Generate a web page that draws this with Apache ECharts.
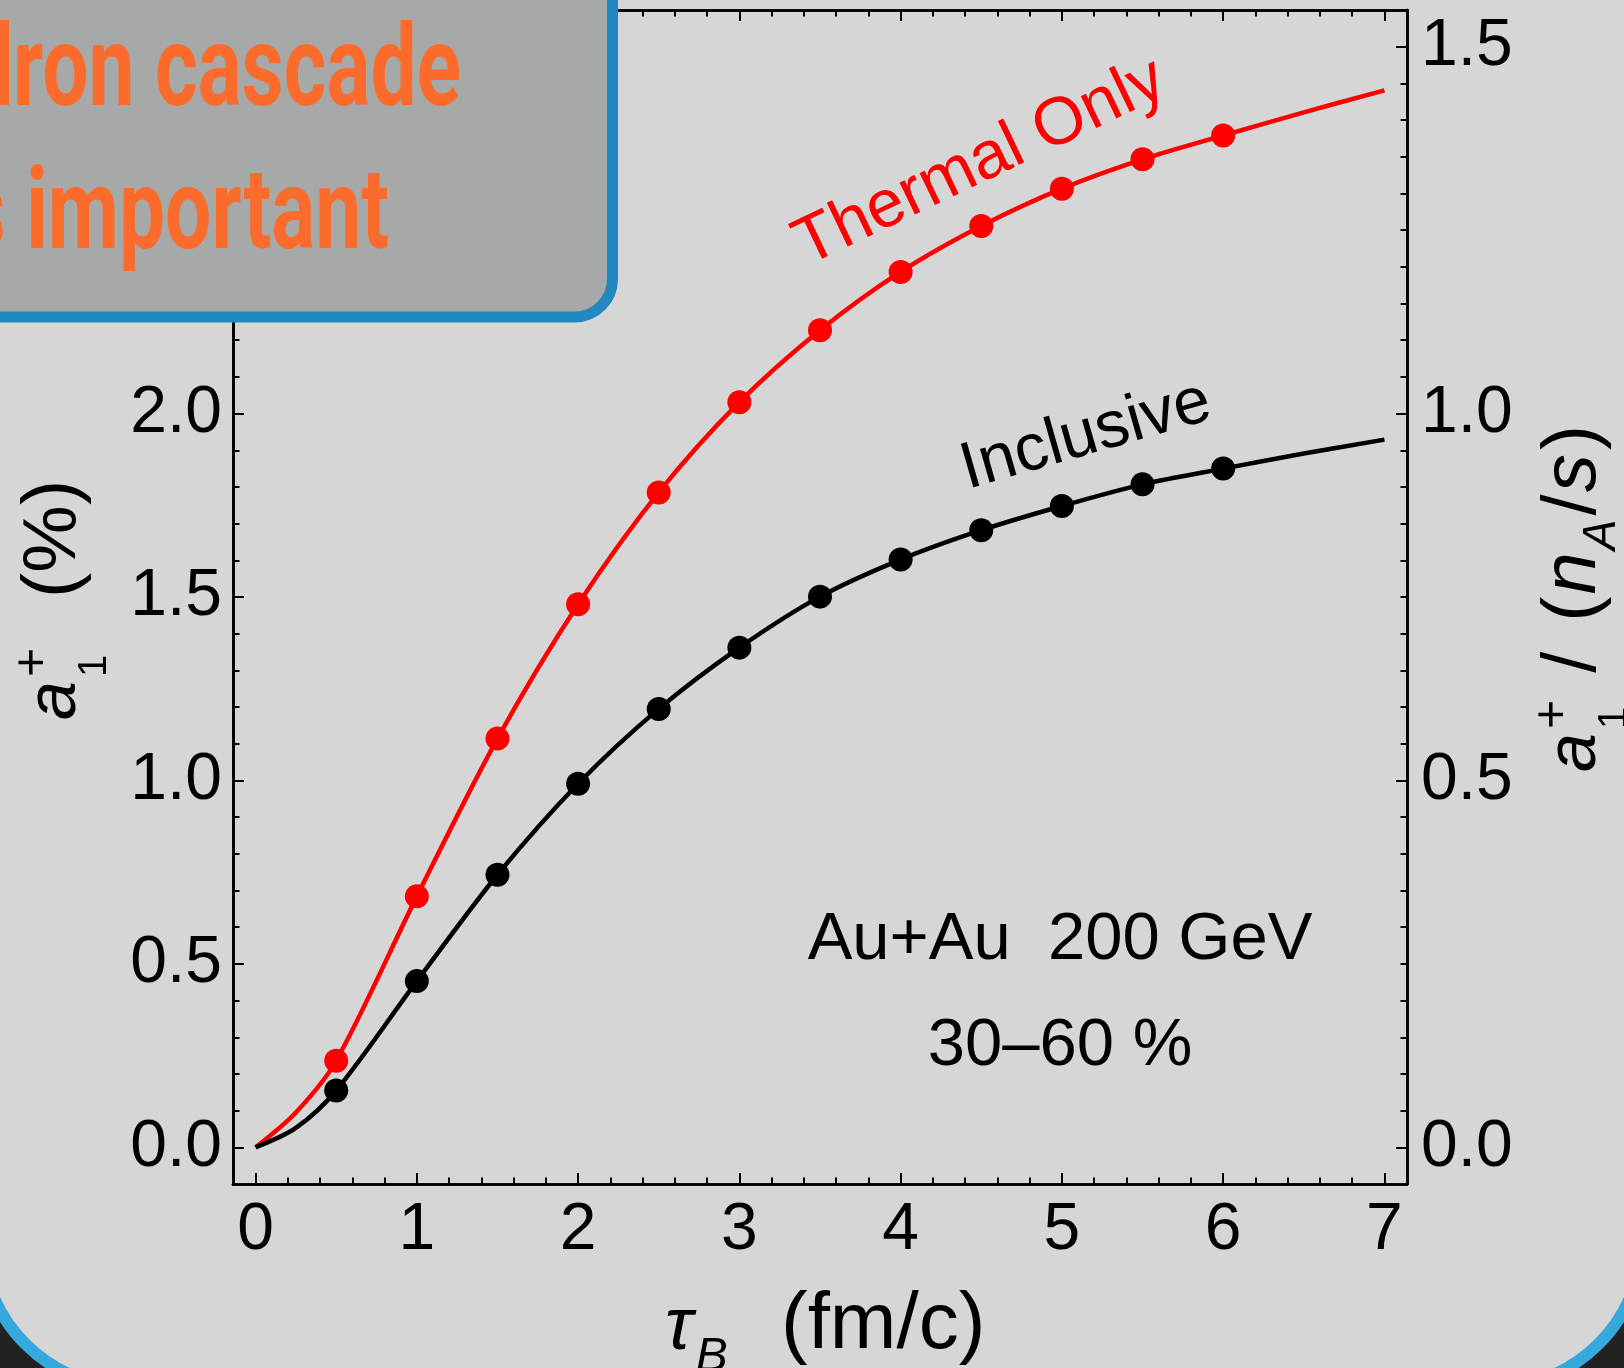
<!DOCTYPE html>
<html><head><meta charset="utf-8">
<script src="https://cdn.jsdelivr.net/npm/echarts@6/dist/echarts.min.js"></script>
<style>html,body{margin:0;padding:0;background:#222;}#c{width:1624px;height:1368px;}</style>
</head><body><div id="c"></div>
<script>
// ---- data ----
const tauPoints       = [0.5, 1, 1.5, 2, 2.5, 3, 3.5, 4, 4.5, 5, 5.5, 6];
const thermalPoints   = [0.236, 0.684, 1.114, 1.480, 1.785, 2.031, 2.227, 2.386, 2.511, 2.613, 2.693, 2.758];
const inclusivePoints = [0.155, 0.453, 0.743, 0.991, 1.195, 1.362, 1.501, 1.602, 1.682, 1.748, 1.807, 1.850];
// extra samples of the fitted curves (before first / after last marker)
const curveTauStart       = [0, 0.25];
const thermalCurveStart   = [0, 0.095];
const inclusiveCurveStart = [0, 0.053];
const curveTauEnd         = [6.5, 7];
const thermalCurveEnd     = [2.821, 2.881];
const inclusiveCurveEnd   = [1.891, 1.929];
// tick labels
const xTicks      = [0, 1, 2, 3, 4, 5, 6, 7];
const yLeftTicks  = [0, 0.5, 1.0, 1.5, 2.0, 2.5, 3.0];
const yRightTicks = [0, 0.5, 1.0, 1.5];

function minorTicks(from, to, step, majors) {
  const out = [];
  for (let i = Math.round(from / step); i * step <= to + 1e-9; i++) {
    const v = +(i * step).toFixed(4);
    if (!majors.some(m => Math.abs(m - v) < 1e-6)) out.push(v);
  }
  return out;
}
const xMinor = minorTicks(0, 7, 0.2, xTicks);
const yLeftMinor = minorTicks(0, 3.05, 0.1, yLeftTicks);
const yRightMinor = minorTicks(0, 1.52, 0.05, yRightTicks);

function pairs(xs, ys) { return xs.map((x, i) => [x, ys[i]]); }
const thermalCurve = pairs(curveTauStart, thermalCurveStart).concat(pairs(tauPoints, thermalPoints), pairs(curveTauEnd, thermalCurveEnd));
const inclusiveCurve = pairs(curveTauStart, inclusiveCurveStart).concat(pairs(tauPoints, inclusivePoints), pairs(curveTauEnd, inclusiveCurveEnd));

const FONT = '"Liberation Sans", Arial, sans-serif';
const AXW = 2.6;

function axisX(pos, ticks, len, labels) {
  return {
    type: 'value', position: pos, min: -0.14, max: 7.14,
    axisLine: { show: true, onZero: false, lineStyle: { color: '#000', width: AXW } },
    axisTick: { show: true, inside: true, length: len, customValues: ticks, lineStyle: { color: '#000', width: 2 } },
    axisLabel: labels ? { show: true, customValues: ticks, margin: 14, fontSize: 66, fontFamily: FONT, color: '#000', formatter: v => String(v) } : { show: false },
    splitLine: { show: false }
  };
}
function axisY(pos, min, max, ticks, len, labels, margin) {
  return {
    type: 'value', position: pos, min: min, max: max,
    axisLine: { show: true, onZero: false, lineStyle: { color: '#000', width: AXW } },
    axisTick: { show: true, inside: true, length: len, customValues: ticks, lineStyle: { color: '#000', width: 2 } },
    axisLabel: labels ? { show: true, customValues: ticks, margin: margin, fontSize: 66, fontFamily: FONT, color: '#000', formatter: v => v.toFixed(1) } : { show: false },
    splitLine: { show: false }
  };
}

// text measuring for math-like titles
const mctx = document.createElement('canvas').getContext('2d');
function tw(t, size, italic) { mctx.font = (italic ? 'italic ' : '') + size + 'px "Liberation Sans"'; return mctx.measureText(t).width; }
function mathGroup(x, y, rot, pieces) {
  let cx = 0; const children = [];
  pieces.forEach(p => {
    const size = p.size || 66;
    if (p.at !== undefined) cx = p.at;
    const px = cx + (p.dx || 0);
    children.push({
      type: 'text', x: px, y: (p.dy || 0) - 0.3465 * size,
      style: { text: p.t, fontSize: size, fontFamily: '"Liberation Sans"', fontStyle: p.italic ? 'italic' : 'normal',
               fill: '#000', align: 'left', verticalAlign: 'middle', textAlign: 'left', textVerticalAlign: 'middle' }
    });
    if (!p.stack) cx = px + tw(p.t, size, p.italic);
  });
  return { type: 'group', x: x, y: y, rotation: rot, children: children, z: 50 };
}
function label(text, x, y, rotDeg, size, color, extra) {
  return Object.assign({
    type: 'text', x: x, y: y, rotation: rotDeg * Math.PI / 180, z: 50,
    style: { text: text, fontSize: size, fontFamily: '"Liberation Sans"', fill: color,
             align: 'center', verticalAlign: 'middle', textAlign: 'center', textVerticalAlign: 'middle' }
  }, extra || {});
}

const calloutFont = 'Roboto';
const cscale = 0.72;

const chart = echarts.init(document.getElementById('c'), null, { renderer: 'canvas' });
chart.setOption({
  animation: false,
  backgroundColor: '#222222',
  grid: { left: 233, top: 10, width: 1174, height: 1174, containLabel: false },
  xAxis: [
    axisX('bottom', xTicks, 11, true),
    axisX('bottom', xMinor, 6.5, false),
    axisX('top', xTicks, 11, false),
    axisX('top', xMinor, 6.5, false)
  ],
  yAxis: [
    axisY('left', -0.1, 3.1, yLeftTicks, 11, true, 11),
    axisY('left', -0.1, 3.1, yLeftMinor, 6.5, false, 0),
    axisY('right', -0.05, 1.55, yRightTicks, 11, true, 14),
    axisY('right', -0.05, 1.55, yRightMinor, 6.5, false, 0)
  ],
  series: [
    { type: 'line', name: 'Thermal curve', data: thermalCurve, smooth: 0.3, showSymbol: false, symbol: 'none',
      lineStyle: { color: '#ff0000', width: 4.5 }, z: 3, silent: true },
    { type: 'line', name: 'Inclusive curve', data: inclusiveCurve, smooth: 0.3, showSymbol: false, symbol: 'none',
      lineStyle: { color: '#000000', width: 4.5 }, z: 3, silent: true },
    { type: 'scatter', name: 'Thermal Only', data: pairs(tauPoints, thermalPoints), symbol: 'circle', symbolSize: 24,
      itemStyle: { color: '#ff0000', opacity: 1 }, z: 4 },
    { type: 'scatter', name: 'Inclusive', data: pairs(tauPoints, inclusivePoints), symbol: 'circle', symbolSize: 24,
      itemStyle: { color: '#000000', opacity: 1 }, z: 4 }
  ],
  graphic: [
    // slide background with rounded blue frame
    { type: 'rect', z: -10, shape: { x: -18.5, y: -300, width: 1661, height: 1688, r: 150 },
      style: { fill: '#d6d6d6', stroke: '#35a8dd', lineWidth: 12 } },
    // annotations
    label('Thermal Only', 980, 163, 25.5, 67, '#ff0000'),
    label('Inclusive', 1086, 436, 16, 66, '#000000'),
    label('Au+Au  200 GeV', 1060, 941, 0, 67, '#000000'),
    label('30\u201360 %', 1060, 1047, 0, 67, '#000000'),
    // axis titles
    mathGroup(665, 1354, 0, [
      { t: '\u03c4', italic: true, size: 74 },
      { t: 'B', italic: true, size: 48, dx: 3, dy: 20 },
      { t: '(fm/c)', size: 80, at: 116 }
    ]),
    mathGroup(80, 720, Math.PI / 2, [
      { t: 'a', italic: true, size: 70 },
      { t: '+', size: 50, dx: 4, dy: -29, stack: true },
      { t: '1', size: 40, dx: 4, dy: 29 },
      { t: '(%)', size: 76, at: 122 }
    ]),
    mathGroup(1600, 772, Math.PI / 2, [
      { t: 'a', italic: true, size: 70 },
      { t: '+', size: 50, dx: 4, dy: -29, stack: true },
      { t: '1', size: 40, dx: 4, dy: 29 },
      { t: '/', size: 76, dx: 34 },
      { t: '(', size: 76, dx: 30 },
      { t: 'n', italic: true, size: 76, dx: 2 },
      { t: 'A', italic: true, size: 46, dx: 2, dy: 18 },
      { t: '/', size: 76, dx: 4 },
      { t: 's', italic: true, size: 76, dx: 2 },
      { t: ')', size: 76, dx: 4 }
    ]),
    // callout box
    { type: 'rect', z: 100, shape: { x: -100, y: -100, width: 712.5, height: 417, r: 38 },
      style: { fill: '#a6a9a8', stroke: '#2288c0', lineWidth: 11 } },
    { type: 'text', z: 101, x: 461, y: 76, scaleX: cscale,
      style: { text: 'hadron cascade', fontSize: 114, fontWeight: 'bold', fontFamily: calloutFont, fill: '#fb6c2c',
               align: 'right', verticalAlign: 'middle', textAlign: 'right', textVerticalAlign: 'middle' } },
    { type: 'text', z: 101, x: 389, y: 219, scaleX: cscale,
      style: { text: 'is important', fontSize: 114, fontWeight: 'bold', fontFamily: calloutFont, fill: '#fb6c2c',
               align: 'right', verticalAlign: 'middle', textAlign: 'right', textVerticalAlign: 'middle' } }
  ]
});
</script>
</body></html>
